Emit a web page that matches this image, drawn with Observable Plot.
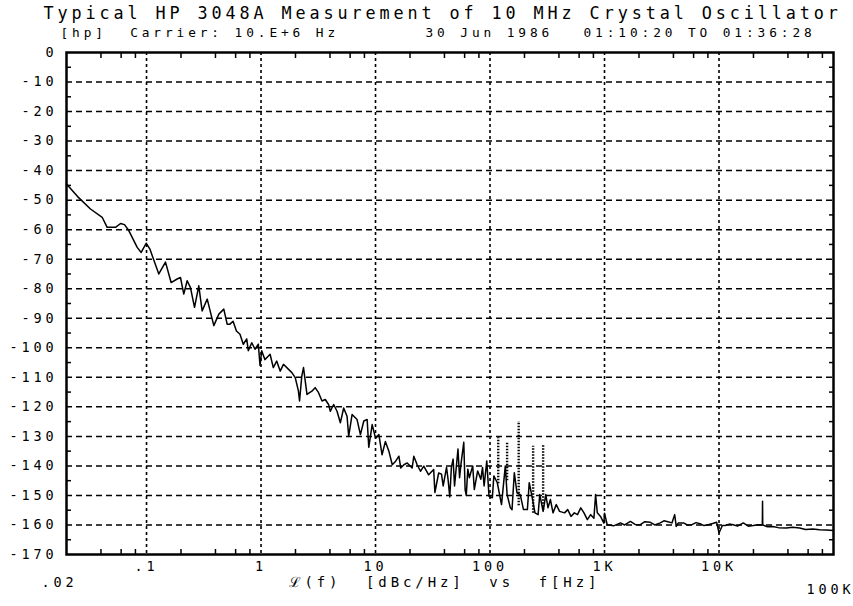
<!DOCTYPE html>
<html>
<head>
<meta charset="utf-8">
<script src="https://cdn.jsdelivr.net/npm/d3@7"></script>
<script src="https://cdn.jsdelivr.net/npm/@observablehq/plot@0.6"></script>
<style>
  html, body { margin: 0; padding: 0; background: #fff; }
</style>
</head>
<body>
<script>
// ---- Text ----
const titleText = "Typical HP 3048A Measurement of 10 MHz Crystal Oscillator";
const subLeft = "[hp]\u00a0\u00a0Carrier:\u00a010.E+6\u00a0Hz";
const subDate = "30 Jun 1986";
const subTime = "01:10:20 TO 01:36:28";
const axisLabel = "\u2112(f)\u00a0\u00a0[dBc/Hz]\u00a0\u00a0vs\u00a0\u00a0f[Hz]";
const xStartLabel = ".02";
const xEndLabel = "100K";

// ---- Axes ----
const xDomain = [0.02, 100000];
const yDomain = [-170, 0];
const xGrid = [0.1, 1, 10, 100, 1000, 10000];
const xLabels = [".1", "1", "10", "100", "1K", "10K"];
const yTicks = [0, -10, -20, -30, -40, -50, -60, -70, -80, -90, -100, -110, -120, -130, -140, -150, -160, -170];
const yGrid = [-10, -20, -30, -40, -50, -60, -70, -80, -90, -100, -110, -120, -130, -140, -150, -160];
const yMinor = [-5, -15, -25, -35, -45, -55, -65, -75, -85, -95, -105, -115, -125, -135, -145, -155, -165];
const xMinor = [0.04, 0.06, 0.08, 0.2, 0.4, 0.6, 0.8, 2, 4, 6, 8, 20, 40, 60, 80, 200, 400, 600, 800,
                2000, 4000, 6000, 8000, 20000, 40000, 60000, 80000];

// ---- Measured trace L(f) ----
const traceFreq = [
  0.02, 0.025, 0.0324, 0.041, 0.0453, 0.0536, 0.0593, 0.0642, 0.07, 0.0829, 0.0898, 0.0993, 0.1068,
  0.128, 0.1464, 0.164, 0.185, 0.198, 0.2115, 0.2265, 0.242, 0.2625, 0.286, 0.306, 0.339, 0.362,
  0.387, 0.428, 0.473, 0.506, 0.535, 0.57, 0.61, 0.655, 0.70, 0.75, 0.774, 0.83, 0.886, 0.947, 0.98,
  1.014, 1.08, 1.16, 1.2, 1.28, 1.37, 1.47, 1.57, 1.74, 1.86, 1.99, 2.12, 2.17, 2.27, 2.35, 2.52,
  2.78, 2.97, 3.18, 3.41, 3.64, 3.89, 4.03, 4.31, 4.61, 4.93, 5.27, 5.64, 5.83, 6.24, 6.9, 7.38,
  7.9, 8.45, 8.73, 9.35, 10, 10.7, 11.4, 12.2, 13.1, 14, 15, 16, 16.6, 17.7, 18.9, 20.9, 21.6,
  23.1, 24.7, 26.4, 29.1, 32.2, 33, 35.6, 37.7, 39, 41.7, 43, 44.5, 46, 47.6, 49, 52.5, 54.2, 56,
  59, 60.6, 62, 64, 66, 70.6, 72.9, 78, 83.2, 86, 88.8, 93.7, 98, 104.8, 108, 115.8, 126, 136,
  141, 150.6, 155.7, 163, 172, 183.6, 196, 212, 220, 231, 247, 263, 272, 291, 307, 321, 337, 355,
  379, 405, 448, 477, 510, 545, 581, 620, 662, 708, 757, 808, 836, 865, 923, 987, 1000, 1055,
  1200, 1378, 1500, 1683, 1850, 2055, 2250, 2510, 2750, 3070, 3300, 3510, 3880, 4100, 4230, 4420,
  4890, 5300, 5800, 6300, 6830, 7400, 8050, 8800, 9540, 10000, 10700, 11300, 12300, 13300, 14500,
  16300, 18000, 19900, 22000, 23900, 24000, 24100, 26500, 29500, 33000, 38700, 44000, 50600,
  57000, 66000, 75600, 86400, 100000
];
const traceDb = [
  -44.5, -48.8, -53, -55.8, -59.2, -59.2, -57.9, -58.3, -60.3, -66, -67.7, -64.6, -66.5,
  -75, -71, -77.9, -76.7, -76.2, -81.8, -77.3, -79.6, -86.3, -79, -87.5, -83.5, -88,
  -92.5, -88.6, -86.9, -92, -92, -91, -94.3, -95.4, -98.8, -97, -101, -98.3, -100.5, -98.8, -106,
  -101, -104, -102.8, -102.2, -106.7, -104.5, -107.9, -105.6, -107.3, -108.4, -110.1, -114.6, -118, -109.6, -106.7, -115.8,
  -114.7, -113.5, -115.2, -118, -117.5, -119.2, -121.5, -119.2, -121.5, -125.4, -120.4, -123.2, -130, -122.6, -124.3, -129.4,
  -124.8, -124.3, -133.7, -126, -130.6, -129.4, -136.2, -131.7, -135.1, -139.6, -138.4, -136.7, -140.7, -139.6, -139, -140.7, -136.7,
  -139.6, -141.8, -140.1, -143, -141.2, -149, -142.4, -142.8, -146.8, -140.5, -144.5, -150.5, -140.5, -137.7, -146.8, -134.3, -144, -138.8,
  -132, -148, -150, -141.1, -144, -140, -148, -141.7, -144.5, -140.5, -146.8, -138.3, -150.3, -150.8, -143.4, -145.7, -153.1, -140,
  -149.7, -154.2, -154.8, -142.3, -149.1, -149.7, -154.8, -154.8, -145.7, -149.7, -155.9, -156.5, -149.7, -155.4, -149.7, -154.2, -151.4, -155.9,
  -153.1, -155.4, -155.9, -154.8, -157.1, -155.9, -156.5, -154.2, -155.9, -158.2, -156.5, -157.7, -149.7, -155.9, -157.1, -159.4, -156, -159.9,
  -160.3, -159.3, -160, -158.8, -159.8, -159.9, -158.9, -159.1, -160, -159.3, -158.6, -158.8, -159.3, -156.5, -160.5, -159.3,
  -159.3, -160, -159.9, -159.2, -159.6, -160.2, -159.9, -159.5, -159.1, -162.7, -160.2, -160.2, -159.7, -159.9, -160.4,
  -159.3, -160.4, -160.2, -159.9, -160, -152, -160, -160.6, -160.5, -160.9, -161, -160.8, -161,
  -161.5, -161.4, -161.6, -161.7, -161.9
];

// ---- Discrete spurs (dotted) ----
const spurFreq = [118, 141, 178, 238, 291];
const spurTop = [-130.5, -132.2, -125, -133.3, -132.8];
const spurBase = [-146, -145, -153.5, -156, -155];

const trace = traceFreq.map((f, i) => ({f, db: traceDb[i]}));
const spurs = spurFreq.map((f, i) => ({f, top: spurTop[i], base: spurBase[i]}));

const font = "'DejaVu Sans Mono', monospace";
const tickOpts = {tickFormat: () => "", strokeWidth: 1.5, label: null};

const chart = Plot.plot({
  width: 853,
  height: 606,
  marginLeft: 66,
  marginRight: 20,
  marginTop: 52,
  marginBottom: 52,
  x: {type: "log", domain: xDomain, label: null},
  y: {domain: yDomain, label: null},
  style: {fontFamily: font, fontSize: "13.5px", background: "#fff", color: "#000", letterSpacing: "3.9px"},
  marks: [
    Plot.ruleY(yGrid, {stroke: "#000", strokeWidth: 1.5, strokeDasharray: "6,4"}),
    Plot.ruleX(xGrid, {stroke: "#000", strokeWidth: 1.6, strokeDasharray: "3,3"}),
    Plot.axisX({anchor: "bottom", ticks: xMinor, tickSize: -5, ...tickOpts}),
    Plot.axisX({anchor: "top", ticks: xMinor, tickSize: -5, ...tickOpts}),
    Plot.axisY({anchor: "left", ticks: yMinor, tickSize: -5, ...tickOpts}),
    Plot.axisY({anchor: "right", ticks: yMinor, tickSize: -5, ...tickOpts}),
    Plot.axisY({anchor: "left", ticks: yTicks, tickSize: 0, tickPadding: 9, label: null,
                tickFormat: d => String(d)}),
    Plot.axisX({anchor: "bottom", ticks: xGrid, tickSize: 0, tickPadding: 7, label: null,
                tickFormat: d => xLabels[xGrid.indexOf(d)]}),
    Plot.ruleX(spurs, {x: "f", y1: "base", y2: "top", stroke: "#000", strokeWidth: 2.4, strokeDasharray: "1.5,1.5"}),
    Plot.line(trace, {x: "f", y: "db", stroke: "#000", strokeWidth: 1.5}),
    Plot.frame({stroke: "#000", strokeWidth: 2.5}),
    Plot.text([titleText], {frameAnchor: "top-left", textAnchor: "start", lineAnchor: "middle",
                            dx: -23, dy: -39, fontSize: 16.8}),
    Plot.text([subLeft], {frameAnchor: "top-left", textAnchor: "start", lineAnchor: "middle",
                          dx: -6, dy: -20, fontSize: 12.8}),
    Plot.text([subDate], {frameAnchor: "top-left", textAnchor: "start", lineAnchor: "middle",
                          dx: 359, dy: -20, fontSize: 12.8}),
    Plot.text([subTime], {frameAnchor: "top-left", textAnchor: "start", lineAnchor: "middle",
                          dx: 517, dy: -20, fontSize: 12.8}),
    Plot.text([xStartLabel], {frameAnchor: "bottom-left", textAnchor: "middle", lineAnchor: "middle",
                              dx: -7, dy: 28}),
    Plot.text([axisLabel], {frameAnchor: "bottom-left", textAnchor: "start", lineAnchor: "middle",
                            dx: 222, dy: 28, fontSize: 14}),
    Plot.text([xEndLabel], {frameAnchor: "bottom-right", textAnchor: "end", lineAnchor: "middle",
                            dx: 21, dy: 35})
  ]
});
document.body.appendChild(chart);
</script>
</body>
</html>
